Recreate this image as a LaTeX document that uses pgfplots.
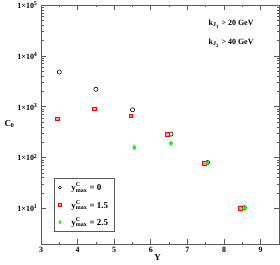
\documentclass[border=0pt]{standalone}
\usepackage{pgfplots}
\pgfplotsset{compat=1.18}
\usepackage{fontspec}
\setmainfont{Liberation Serif}
\begin{document}
\begin{tikzpicture}
\useasboundingbox (0,0) rectangle (280bp,265bp);
\begin{axis}[
  at={(41bp,21bp)}, anchor=south west,
  scale only axis, width=238bp, height=239bp,
  xmin=3, xmax=9.5, ymin=2, ymax=1e5,
  ymode=log,
  xtick={3,4,5,6,7,8,9},
  minor x tick num=1,
  ytick={10,100,1000,10000,100000},
  yticklabels={1×10\textsuperscript{1},1×10\textsuperscript{2},1×10\textsuperscript{3},1×10\textsuperscript{4},1×10\textsuperscript{5}},
  xticklabels={3,4,5,6,7,8,9},
  tick label style={font=\fontsize{8}{9}\selectfont\bfseries},
  tick align=inside, xtick pos=both, ytick pos=both,
  major tick length=5bp, minor tick length=2.5bp,
  axis line style={gray!70!black, line width=0.8pt},
  every tick/.style={gray!70!black, line width=0.7pt},
  xlabel={\bfseries Y}, ylabel={\bfseries C\textsubscript{0}},
  label style={font=\fontsize{9}{10}\selectfont},
  xlabel style={at={(axis description cs:0.49,0)}, anchor=center, yshift=-14bp},
  ylabel style={rotate=-90, at={(axis description cs:0,0.5)}, anchor=west, xshift=-40bp},
  legend style={at={(0.055,0.05)}, anchor=south west, draw=gray!70!black, line width=0.6pt,
    font=\fontsize{9}{10}\selectfont\bfseries, row sep=4bp, inner xsep=4bp, inner ysep=3bp},
  legend cell align=left,
]
\addplot[only marks, mark=o, mark size=2.1pt, black, line width=0.6pt,
  legend image post style={mark size=1.5pt}] coordinates {
(3.5,4800) (4.5,2200) (5.5,870) (6.55,290) (7.55,80) (8.55,10.3)};
\addlegendentry{\hspace{8bp}y$^{\mathbf{C}}_{\mathbf{max}}$ = 0}
\addplot[only marks, mark=square*, mark size=1.9pt, red, fill=red!35, line width=0.6pt,
  legend image post style={mark size=1.4pt}] coordinates {
(3.45,577) (4.45,910) (5.45,664) (6.45,290) (7.45,78) (8.45,10.2)};
\addlegendentry{\hspace{8bp}y$^{\mathbf{C}}_{\mathbf{max}}$ = 1.5}
\addplot[only marks, mark=diamond*, mark size=2.3pt, green, fill=green, line width=0.4pt,
  legend image post style={mark size=1.7pt}] coordinates {
(5.55,157) (6.55,190) (7.55,78) (8.55,10)};
\addlegendentry{\hspace{8bp}y$^{\mathbf{C}}_{\mathbf{max}}$ = 2.5}
\node[anchor=east, font=\fontsize{8}{9}\selectfont\bfseries] at (axis cs:8.9,42000) {k$_{\mathbf{J_1}}$ > 20 GeV};
\node[anchor=east, font=\fontsize{8}{9}\selectfont\bfseries] at (axis cs:8.9,17700) {k$_{\mathbf{J_2}}$ > 40 GeV};
\end{axis}
\end{tikzpicture}
\end{document}
